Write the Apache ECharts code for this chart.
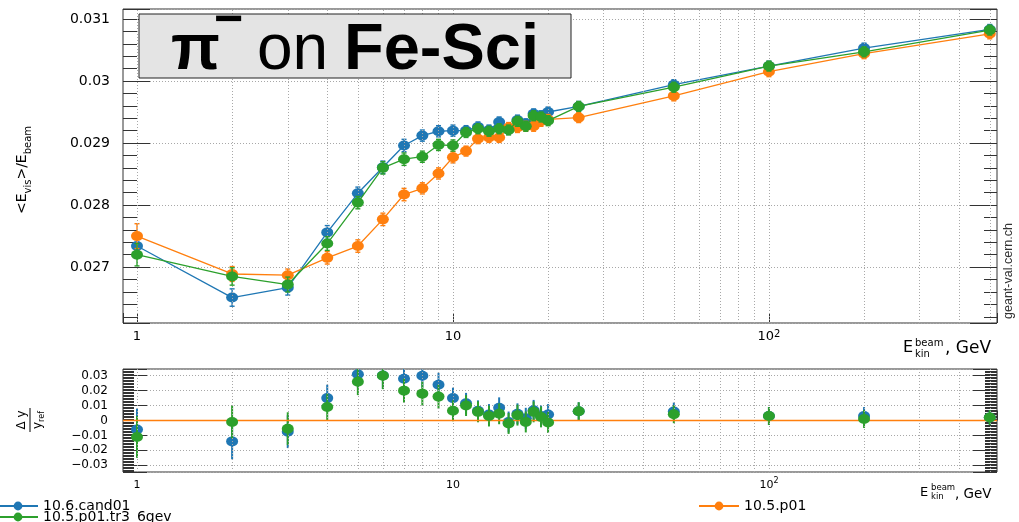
<!DOCTYPE html>
<html><head><meta charset="utf-8">
<script src="https://cdn.jsdelivr.net/npm/echarts@6/dist/echarts.min.js"></script>
<style>html,body{margin:0;padding:0;background:#fff}#c{width:1019px;height:522px}</style>
</head><body><div id="c"></div>
<script>
// ---- data ----
const energies = [1,2,3,4,5,6,7,8,9,10,11,12,13,14,15,16,17,18,19,20,25,50,100,200,500];
const cand01 = [0.02734,0.02651,0.02667,0.02756,0.02819,0.02861,0.02896,0.02912,0.02919,0.02920,0.02920,0.02926,0.02921,0.02934,0.02922,0.02937,0.02931,0.02947,0.02944,0.02950,0.02959,0.02994,0.03024,0.03053,0.03083];
const p01 = [0.02750,0.02689,0.02687,0.02715,0.02734,0.02777,0.02817,0.02827,0.02851,0.02877,0.02887,0.02907,0.02909,0.02909,0.02925,0.02925,0.02927,0.02927,0.02935,0.02938,0.02941,0.02976,0.03015,0.03044,0.03076];
const tr3 = [0.02720,0.02685,0.02672,0.02738,0.02804,0.02860,0.02874,0.02878,0.02897,0.02896,0.02917,0.02923,0.02919,0.02923,0.02921,0.02935,0.02927,0.02944,0.02942,0.02936,0.02959,0.02990,0.03024,0.03047,0.03082];
const cand01Err = [0.00012,0.00014,0.00012,0.00011,0.0001,0.0001,0.0001,0.00009,0.00009,0.00009,0.00008,0.00008,0.00008,0.00008,0.00008,0.00008,0.00008,0.00008,0.00008,0.00008,0.00008,0.00008,0.00008,0.00008,0.00008];
const p01Err = [0.0002,0.00012,0.0001,0.0001,0.0001,0.0001,0.0001,0.00009,0.00009,0.00009,0.00008,0.00008,0.00008,0.00008,0.00008,0.00008,0.00008,0.00008,0.00008,0.00008,0.00008,0.00008,0.00008,0.00008,0.00008];
const tr3Err = [0.00018,0.00014,0.00012,0.00011,0.0001,0.0001,0.0001,0.00009,0.00009,0.00009,0.00008,0.00008,0.00008,0.00008,0.00008,0.00008,0.00008,0.00008,0.00008,0.00008,0.00008,0.00008,0.00008,0.00008,0.00008];
const cand01Ratio = [-0.006,-0.014,-0.0075,0.015,0.031,0.0302,0.028,0.030,0.024,0.015,0.0115,0.0065,0.004,0.0085,-0.001,0.0045,0.0015,0.0068,0.003,0.004,0.0062,0.006,0.003,0.003,0.002];
const tr3Ratio = [-0.011,-0.001,-0.0055,0.009,0.026,0.030,0.020,0.018,0.016,0.0065,0.010,0.0058,0.003,0.0045,-0.002,0.0036,-0.001,0.0058,0.0024,-0.0013,0.0062,0.0042,0.003,0.001,0.002];
const cand01RatioErr = [0.014,0.012,0.011,0.009,0.009,0.009,0.008,0.008,0.008,0.007,0.007,0.007,0.007,0.007,0.007,0.007,0.007,0.007,0.007,0.007,0.006,0.006,0.006,0.006,0.005];
const tr3RatioErr = [0.014,0.011,0.011,0.009,0.009,0.009,0.008,0.008,0.008,0.007,0.007,0.007,0.007,0.007,0.007,0.007,0.007,0.007,0.007,0.007,0.006,0.006,0.006,0.006,0.005];
const gridX = [1,2,3,4,5,6,7,8,9,10,20,30,40,50,60,70,80,90,100,200,300,400,500];
const names = ['10.6.cand01','10.5.p01','10.5.p01.tr3_6gev'];
const colors = ['#1f77b4','#ff7f0e','#2ca02c'];

// ---- chart ----
const chart = echarts.init(document.getElementById('c'), null, {renderer:'canvas'});
const FONT = 'DejaVu Sans';
const gridLine = {color:'#a8a8a8', width:1, type:[1,2]};

function pairs(vals){ return energies.map((e,i)=>[e, vals[i]]); }
function errBars(vals, errs, color, xi, yi, caps, width, z){
  return {
    type:'custom', xAxisIndex:xi, yAxisIndex:yi, silent:true, z:z, clip:true,
    data: energies.map((e,i)=>[e, vals[i]-errs[i], vals[i]+errs[i]]),
    encode:{x:0, y:[1,2]},
    renderItem:function(params, api){
      const lo = api.coord([api.value(0), api.value(1)]);
      const hi = api.coord([api.value(0), api.value(2)]);
      const st = {stroke:color, lineWidth:width};
      const ch = [{type:'line', shape:{x1:lo[0],y1:lo[1],x2:hi[0],y2:hi[1]}, style:st}];
      if (caps){
        ch.push({type:'line', shape:{x1:lo[0]-2.5,y1:lo[1],x2:lo[0]+2.5,y2:lo[1]}, style:st});
        ch.push({type:'line', shape:{x1:hi[0]-2.5,y1:hi[1],x2:hi[0]+2.5,y2:hi[1]}, style:st});
      }
      return {type:'group', children:ch};
    }
  };
}
function logLabel(v){
  const lg = Math.log10(v);
  if (Math.abs(lg - Math.round(lg)) > 1e-6) return '';
  const p = Math.round(lg);
  if (p === 0) return '1';
  if (p === 1) return '10';
  return '10{s|' + p + '}';
}
function yLabel(step, minus){
  return function(v){
    const k = v/step;
    if (Math.abs(k - Math.round(k)) > 1e-6) return '';
    let s = String(parseFloat(v.toFixed(4)));
    if (minus && s.charAt(0) === '-') s = '\u2212' + s.slice(1);
    return s;
  };
}
const vgrid = (xi, yi) => ({
  type:'line', xAxisIndex:xi, yAxisIndex:yi, data:[], silent:true, z:0,
  markLine:{silent:true, symbol:['none','none'], animation:false, label:{show:false},
    lineStyle:gridLine, emphasis:{disabled:true},
    data: gridX.map(v=>({xAxis:v}))}
});

const mainSeries = [];
[cand01, p01, tr3].forEach((vals, k)=>{
  const errs = [cand01Err, p01Err, tr3Err][k];
  mainSeries.push(errBars(vals, errs, colors[k], 0, 0, true, 1.4, 2 + k*2));
  mainSeries.push({
    type:'line', name:names[k], xAxisIndex:0, yAxisIndex:0, data:pairs(vals),
    symbol:'circle', symbolSize:[12,10], showSymbol:true, z:3 + k*2,
    lineStyle:{color:colors[k], width:1.3}, itemStyle:{color:colors[k]},
    emphasis:{disabled:true}, animation:false
  });
});
const ratioSeries = [];
ratioSeries.push({
  type:'line', name:names[1], xAxisIndex:1, yAxisIndex:2, data:[], silent:true, z:1,
  lineStyle:{color:colors[1]}, itemStyle:{color:colors[1]},
  markLine:{silent:true, symbol:['none','none'], animation:false, label:{show:false},
    lineStyle:{color:colors[1], width:1.3, type:'solid'}, emphasis:{disabled:true},
    data:[{yAxis:0}]}
});
[[cand01Ratio, cand01RatioErr, 0], [tr3Ratio, tr3RatioErr, 2]].forEach(([vals, errs, k], j)=>{
  ratioSeries.push(errBars(vals, errs, colors[k], 1, 2, false, 2, 2 + j*2));
  ratioSeries.push({
    type:'scatter', name:names[k], xAxisIndex:1, yAxisIndex:2, data:pairs(vals),
    symbol:'circle', symbolSize:[12,10], z:3 + j*2, itemStyle:{color:colors[k], opacity:1},
    emphasis:{disabled:true}, animation:false
  });
});

const axisCol = '#333';
function xAxis(gi, fs, margin){
  return {
    type:'log', logBase:10, gridIndex:gi, min:0.903, max:527, position:'bottom',
    axisLine:{show:false}, splitLine:{show:false},
    axisTick:{show:true, inside:true, length:10, lineStyle:{color:axisCol}},
    axisLabel:{formatter:logLabel, fontFamily:FONT, fontSize:fs, color:'#000', margin:margin, lineHeight:16,
      rich:{s:{fontFamily:FONT, fontSize:fs-3, verticalAlign:'top', lineHeight:9, color:'#000'}}}
  };
}
function yAxis(gi, min, max, pos, opts){
  const labels = pos === 'left';
  return Object.assign({
    type:'value', gridIndex:gi, min:min, max:max, position:pos, scale:true,
    axisLine:{show:false},
    axisTick:{show:true, inside:true, length:opts.major, lineStyle:{color:axisCol}},
    minorTick:{show:true, splitNumber:opts.minorN, length:opts.minor, lineStyle:{color:axisCol}},
    splitLine:{show:labels, lineStyle:gridLine},
    axisLabel:{show:labels, formatter:opts.fmt, fontFamily:FONT, fontSize:opts.fs, color:'#000', margin:opts.margin}
  }, opts.extra || {});
}
const legendBase = {orient:'vertical', top:499, height:40, padding:0, itemWidth:40, itemHeight:11, itemGap:-3,
  textStyle:{fontFamily:FONT, fontSize:14, color:'#000', lineHeight:11}, selectedMode:false};

chart.setOption({
  animation:false,
  backgroundColor:'#fff',
  grid:[
    {left:123, right:22, top:9, height:314, show:true, borderColor:'#333', borderWidth:1, backgroundColor:'transparent'},
    {left:123, right:22, top:369, height:103, show:true, borderColor:'#333', borderWidth:1, backgroundColor:'transparent'}
  ],
  xAxis:[ xAxis(0, 13, 6), xAxis(1, 11, 5) ],
  yAxis:[
    yAxis(0, 0.0261, 0.03116, 'left', {major:27, minor:14, minorN:5, fs:14, margin:13, fmt:yLabel(0.001,false)}),
    yAxis(0, 0.0261, 0.03116, 'right', {major:27, minor:13, minorN:5, fs:14, margin:13}),
    yAxis(1, -0.0345, 0.0345, 'left', {major:24, minor:11, minorN:10, fs:12, margin:15, fmt:yLabel(0.01,true), extra:{splitNumber:7}}),
    yAxis(1, -0.0345, 0.0345, 'right', {major:24, minor:12, minorN:10, fs:12, margin:15, extra:{splitNumber:7}})
  ],
  legend:[
    Object.assign({}, legendBase, {data:[names[0], names[2]], left:-3}),
    Object.assign({}, legendBase, {data:[names[1]], left:698})
  ],
  series:[vgrid(0,0), vgrid(1,2)].concat(mainSeries, ratioSeries),
  graphic:[
    {type:'rect', z:100, shape:{x:139, y:14, width:432, height:64}, style:{fill:'#e4e4e4', stroke:'#222', lineWidth:1}},
    {type:'text', z:101, x:171, y:51, style:{text:'π', font:'bold 64px "Liberation Sans"', fill:'#000', verticalAlign:'middle'}},
    {type:'text', z:101, x:214, y:21, style:{text:'\u2212', font:'bold 50px "Liberation Sans"', fill:'#000', verticalAlign:'middle'}},
    {type:'text', z:101, x:257, y:51, style:{text:'on', font:'64px "Liberation Sans"', fill:'#000', verticalAlign:'middle'}},
    {type:'text', z:101, x:344, y:51, style:{text:'Fe-Sci', font:'bold 65px "Liberation Sans"', fill:'#000', verticalAlign:'middle'}},
    // y title main
    {type:'text', z:101, x:22, y:170, rotation:Math.PI/2, style:{
      text:'{n|<E}{s|vis}{n|>/E}{s|beam}', align:'center', verticalAlign:'middle',
      rich:{n:{fontFamily:FONT, fontSize:14, lineHeight:22, verticalAlign:'middle', fill:'#000'},
            s:{fontFamily:FONT, fontSize:10, lineHeight:10, verticalAlign:'bottom', fill:'#000'}}}},
    // x title main
    {type:'text', z:101, x:903, y:348, style:{text:'E', font:'16px "DejaVu Sans"', fill:'#000', verticalAlign:'middle'}},
    {type:'text', z:101, x:915, y:343, style:{text:'beam', font:'10px "DejaVu Sans"', fill:'#000', verticalAlign:'middle'}},
    {type:'text', z:101, x:915, y:354, style:{text:'kin', font:'10px "DejaVu Sans"', fill:'#000', verticalAlign:'middle'}},
    {type:'text', z:101, x:945, y:349, style:{text:', GeV', font:'17px "DejaVu Sans"', fill:'#000', verticalAlign:'middle'}},
    // x title ratio
    {type:'text', z:101, x:920, y:493, style:{text:'E', font:'13px "DejaVu Sans"', fill:'#000', verticalAlign:'middle'}},
    {type:'text', z:101, x:931, y:488, style:{text:'beam', font:'8.5px "DejaVu Sans"', fill:'#000', verticalAlign:'middle'}},
    {type:'text', z:101, x:931, y:497, style:{text:'kin', font:'8.5px "DejaVu Sans"', fill:'#000', verticalAlign:'middle'}},
    {type:'text', z:101, x:955, y:494, style:{text:', GeV', font:'13.5px "DejaVu Sans"', fill:'#000', verticalAlign:'middle'}},
    // y title ratio
    {type:'group', x:30, y:420, rotation:Math.PI/2, z:101, children:[
      {type:'text', x:0, y:-8, style:{text:'\u0394 y', font:'12px "DejaVu Sans"', fill:'#000', align:'center', verticalAlign:'middle'}},
      {type:'line', shape:{x1:-12, y1:0, x2:12, y2:0}, style:{stroke:'#000', lineWidth:1}},
      {type:'text', x:0, y:8, style:{text:'{n|y}{s|ref}', align:'center', verticalAlign:'middle',
        rich:{n:{fontFamily:FONT, fontSize:12, lineHeight:16, verticalAlign:'middle', fill:'#000'},
              s:{fontFamily:FONT, fontSize:8, lineHeight:8, verticalAlign:'bottom', fill:'#000'}}}}
    ]},
    // watermark
    {type:'text', z:101, x:1009, y:271, rotation:Math.PI/2, style:{text:'geant-val.cern.ch', font:'12.5px "Liberation Sans"', fill:'#333', align:'center', verticalAlign:'middle'}}
  ]
});
</script></body></html>
